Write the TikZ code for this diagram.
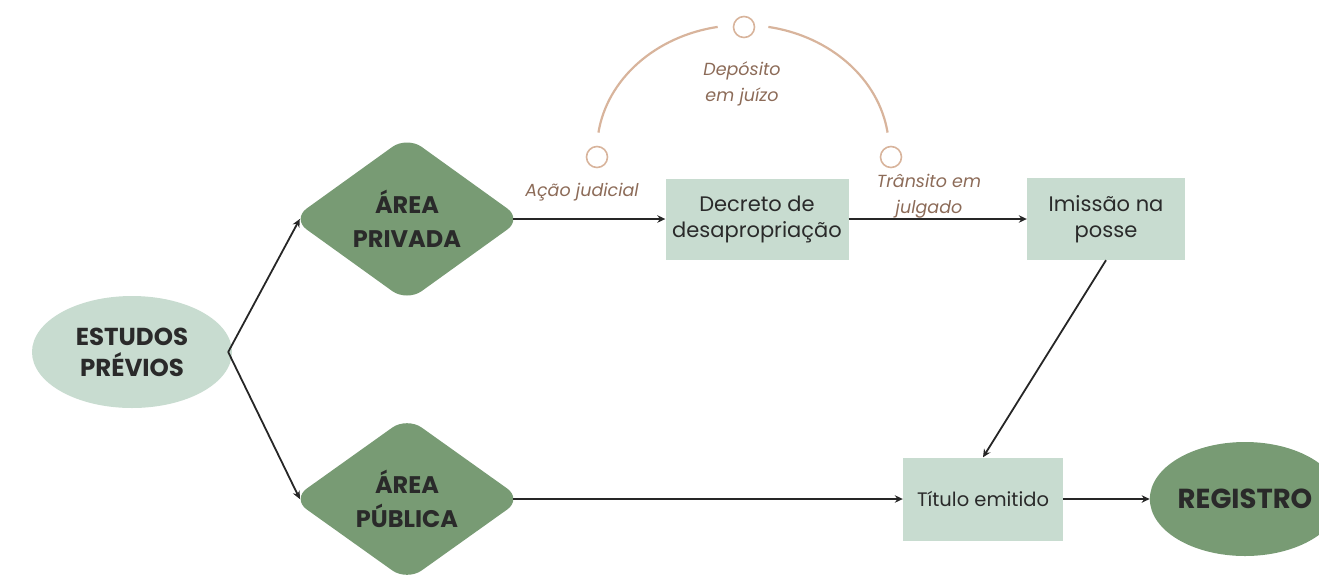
\documentclass[tikz,border=0pt]{standalone}
\usepackage{fontspec}
\setmainfont{Poppins}
\usetikzlibrary{shapes.geometric,arrows.meta}
\definecolor{darkg}{HTML}{789B74}
\definecolor{lightg}{HTML}{C8DCD0}
\definecolor{tanc}{HTML}{D8B49C}
\definecolor{brownt}{HTML}{8C6B58}
\definecolor{txt}{HTML}{2A2A2A}
\begin{document}
\begin{tikzpicture}[x=1pt,y=-1pt,
 dia/.style={diamond, fill=darkg, rounded corners=18pt, minimum width=230pt, minimum height=164pt, inner sep=0pt, align=center, font=\bfseries\fontsize{24}{34}\selectfont, text=txt},
 box/.style={rectangle, fill=lightg, align=center, text=txt, font=\fontsize{21}{26}\selectfont, inner sep=0pt},
 lbl/.style={text=brownt, font=\itshape\fontsize{17.5}{26}\selectfont, align=center, inner sep=0pt},
 arr/.style={-{Stealth[length=8pt,width=7.5pt]}, line width=1.8pt, draw=black!85},
 ring/.style={circle, draw=tanc, line width=1.6pt, minimum size=21pt, inner sep=0pt},
 arcline/.style={draw=tanc, line width=2.2pt}
]
\useasboundingbox (0,0) rectangle (1319,574);
\node[ellipse, fill=lightg, minimum width=200pt, minimum height=112pt, align=center, inner sep=0pt, font=\bfseries\fontsize{24.5}{31}\selectfont, text=txt] (est) at (132,352) {ESTUDOS\\PRÉVIOS};
\node[dia] (priv) at (407,219) {ÁREA\\PRIVADA};
\node[dia] (pub) at (407,499) {ÁREA\\PÚBLICA};
\node[box, minimum width=183pt, minimum height=81pt] (dec) at (757,219) {Decreto de\\desapropriação};
\node[box, minimum width=158pt, minimum height=82pt] (imi) at (1106,219) {Imissão na\\posse};
\node[box, minimum width=160pt, minimum height=83pt, font=\fontsize{19.5}{26}\selectfont] (tit) at (983,499) {Título emitido};
\node[ellipse, fill=darkg, minimum width=190pt, minimum height=114pt, inner sep=0pt, font=\bfseries\fontsize{27.5}{30}\selectfont, text=txt] (reg) at (1245,499) {REGISTRO};
\draw[arr] ([xshift=-4pt]est.east) -- ([xshift=8pt]priv.west);
\draw[arr] ([xshift=-4pt]est.east) -- ([xshift=8pt]pub.west);
\draw[arr] ([xshift=-9pt]priv.east) -- (dec.west);
\draw[arr] (dec.east) -- (imi.west);
\draw[arr] (imi.south) -- (tit.north);
\draw[arr] ([xshift=-9pt]pub.east) -- (tit.west);
\draw[arr] (tit.east) -- (reg.west);
\node[lbl] (aj) at (582,192) {Ação judicial};
\node[lbl] (tj) at (929,196) {Trânsito em\\julgado};
\node[lbl] (dj) at (742,84) {Depósito\\em juízo};
\draw[arcline] (743,150) ++(172:146pt and 125pt) arc[start angle=172, end angle=100, x radius=146pt, y radius=125pt];
\draw[arcline] (743,150) ++(80:146pt and 125pt) arc[start angle=80, end angle=8, x radius=146pt, y radius=125pt];
\node[ring] (r1) at (597,157) {};
\node[ring] (r2) at (744,27) {};
\node[ring] (r3) at (891,157) {};
\end{tikzpicture}
\end{document}
